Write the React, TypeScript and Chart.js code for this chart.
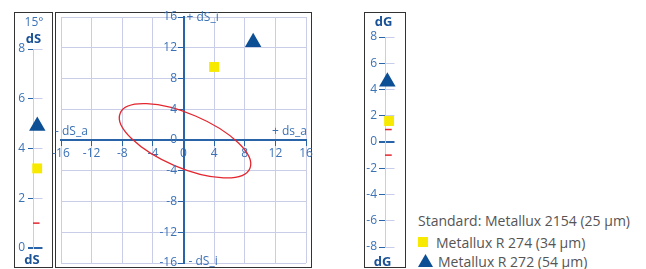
import React, { useEffect, useRef } from "react";
import { Chart, registerables } from "chart.js";
Chart.register(...registerables);

// ---------------- data ----------------
const standardLabel = "Standard: Metallux 2154 (25 µm)";
const sampleLabels = ["Metallux R 274 (34 µm)", "Metallux R 272 (54 µm)"];
const angleLabel = "15°";

const dsValues = [3.2, 4.9]; // R 274, R 272
const dsTolerance = [1.0];
const dgValues = [1.6, 4.6];
const dgTolerance = [0.95, -1.0];
const dsaValues = [4.0, 9.1];
const dsiValues = [9.5, 12.7];

const dsTicks = [0, 2, 4, 6, 8];
const dgTicks = [-8, -6, -4, -2, 0, 2, 4, 6, 8];
const planeTicks = [-16, -12, -8, -4, 0, 4, 8, 12, 16];

const ellipseCenter = [0.2, -0.1];
const ellipseAxes = [9.2, 3.5];
const ellipseAngleDeg = -23;

const planeAxisLabels = ["+ dS_i", "- dS_i", "- dS_a", "+ ds_a"];

// ---------------- styles ----------------
const FONT = "'Open Sans', 'Noto Sans', sans-serif";
const TICK = "#3b72b6";
const AXIS = "#2a64a8";
const GRID = "#c9cde8";
const TITLE = "#1a5296";
const BLUE = "#0d4f94";
const YELLOW = "#f7ea00";
const RED = "#e3262e";
const FRAME = "#333333";
const LEGEND_TEXT = "#555555";

const tickFont = { family: FONT, size: 12 };

function setTicks(list: number[]) {
  return (s: any) => {
    s.ticks = list.map((v) => ({ value: v }));
  };
}

function zeroPad(s: any) {
  s.paddingTop = 0;
  s.paddingBottom = 0;
  s.paddingLeft = 0;
  s.paddingRight = 0;
}

function sideChart(canvas: HTMLCanvasElement, o: any) {
  const datasets: any[] = [
    ...o.tolerance.map((v: number) => ({
      type: "line",
      data: [
        { x: 0, y: v },
        { x: o.tolEnd, y: v },
      ],
      borderColor: RED,
      borderWidth: 1.5,
      pointRadius: 0,
      clip: false,
    })),
    {
      type: "scatter",
      data: [{ x: o.squareX, y: o.values[0] }],
      pointStyle: "rect",
      pointRadius: 7,
      backgroundColor: YELLOW,
      borderWidth: 0,
      clip: false,
    },
    {
      type: "scatter",
      data: [{ x: o.triangleX, y: o.values[1] }],
      pointStyle: "triangle",
      pointRadius: 9.5,
      backgroundColor: BLUE,
      borderWidth: 0,
      clip: false,
    },
  ];
  return new Chart(canvas, {
    type: "scatter",
    data: { datasets },
    options: {
      animation: false,
      responsive: false,
      events: [],
      layout: { padding: o.padding },
      plugins: { legend: { display: false }, tooltip: { enabled: false } },
      scales: {
        x: { type: "linear", min: 0, max: 1, display: false },
        y: {
          type: "linear",
          min: o.min,
          max: o.max,
          afterBuildTicks: setTicks(o.ticks),
          afterFit: (s: any) => {
            zeroPad(s);
            s.width = o.axisWidth;
          },
          grid: {
            color: (c: any) => (c.tick && c.tick.value === 0 ? AXIS : GRID),
            lineWidth: (c: any) => (c.tick && c.tick.value === 0 ? 2 : 1),
            tickColor: AXIS,
            tickWidth: (c: any) => (c.tick && c.tick.value === 0 ? 2 : 1),
            tickLength: o.tickLength,
          },
          border: { color: GRID, width: 1 },
          ticks: { color: TICK, font: tickFont, padding: o.tickPad },
        },
      },
    } as any,
  });
}

const planeDecor = {
  id: "planeDecor",
  beforeDatasetsDraw(chart: any) {
    const { ctx } = chart;
    const x = chart.scales.x;
    const y = chart.scales.y;
    const cx = x.getPixelForValue(ellipseCenter[0]);
    const cy = y.getPixelForValue(ellipseCenter[1]);
    const sx = x.getPixelForValue(1) - x.getPixelForValue(0);
    const sy = y.getPixelForValue(0) - y.getPixelForValue(1);
    ctx.save();
    ctx.beginPath();
    ctx.translate(cx, cy);
    ctx.scale(sx, -sy);
    ctx.rotate((ellipseAngleDeg * Math.PI) / 180);
    ctx.ellipse(0, 0, ellipseAxes[0], ellipseAxes[1], 0, 0, Math.PI * 2);
    ctx.restore();
    ctx.save();
    ctx.strokeStyle = RED;
    ctx.lineWidth = 1.3;
    ctx.stroke();
    ctx.restore();
  },
  afterDraw(chart: any) {
    const { ctx, chartArea } = chart;
    const x = chart.scales.x;
    const y = chart.scales.y;
    const x0 = x.getPixelForValue(0);
    const y0 = y.getPixelForValue(0);
    ctx.save();
    ctx.fillStyle = TICK;
    ctx.font = `12px ${FONT}`;
    ctx.textBaseline = "middle";
    // y tick labels, left of the central vertical axis
    ctx.textAlign = "right";
    y.ticks.forEach((t: any) => {
      ctx.fillText(String(t.value), x0 - 6.5, y.getPixelForValue(t.value));
    });
    ctx.textAlign = "left";
    ctx.fillText(planeAxisLabels[0], x0 + 3, y.getPixelForValue(16) + 1);
    ctx.fillText(planeAxisLabels[1], x0 + 5, y.getPixelForValue(-16) - 1);
    ctx.fillText(planeAxisLabels[2], chartArea.left - 6, y0 - 8);
    ctx.textAlign = "right";
    ctx.fillText(planeAxisLabels[3], chartArea.right + 1, y0 - 8);
    ctx.restore();
  },
};

function planeChart(canvas: HTMLCanvasElement) {
  return new Chart(canvas, {
    type: "scatter",
    data: {
      datasets: [
        {
          data: [{ x: dsaValues[0], y: dsiValues[0] }],
          pointStyle: "rect",
          pointRadius: 7,
          backgroundColor: YELLOW,
          borderWidth: 0,
          clip: false,
        },
        {
          data: [{ x: dsaValues[1], y: dsiValues[1] }],
          pointStyle: "triangle",
          pointRadius: 9.5,
          backgroundColor: BLUE,
          borderWidth: 0,
          clip: false,
        },
      ],
    },
    options: {
      animation: false,
      responsive: false,
      events: [],
      layout: { padding: { left: 17, right: 18, top: 12, bottom: 22 } },
      plugins: { legend: { display: false }, tooltip: { enabled: false } },
      scales: {
        x: {
          type: "linear",
          min: -16,
          max: 16,
          position: { y: 0 },
          afterBuildTicks: setTicks(planeTicks),
          afterFit: zeroPad,
          grid: { color: GRID, tickColor: AXIS, tickLength: 5, lineWidth: 1 },
          border: { color: AXIS, width: 2 },
          ticks: { color: TICK, font: tickFont, padding: 1, maxRotation: 0, autoSkip: false },
        },
        y: {
          type: "linear",
          min: -16,
          max: 16,
          position: { x: 0 },
          afterBuildTicks: setTicks(planeTicks),
          afterFit: zeroPad,
          grid: { color: GRID, tickColor: AXIS, tickLength: 5, lineWidth: 1 },
          border: { color: AXIS, width: 2 },
          ticks: { display: false },
        },
      },
    } as any,
    plugins: [planeDecor as any],
  });
}

const abs = (l: number, t: number, w: number, h: number): React.CSSProperties => ({
  position: "absolute",
  left: l,
  top: t,
  width: w,
  height: h,
});

function Label(props: { x: number; y: number; w: number; text: string; bold?: boolean; size?: number; color?: string; align?: "left" | "center" }) {
  const size = props.size || 12;
  const lh = 18;
  return (
    <div
      style={{
        position: "absolute",
        left: props.align === "left" ? props.x : props.x - props.w / 2,
        top: props.y - lh / 2,
        width: props.w,
        height: lh,
        lineHeight: lh + "px",
        fontFamily: FONT,
        fontSize: size,
        fontWeight: props.bold ? 700 : 400,
        color: props.color || TITLE,
        textAlign: props.align || "center",
        whiteSpace: "nowrap",
      }}
    >
      {props.text}
    </div>
  );
}

export default function App() {
  const dsRef = useRef<HTMLCanvasElement>(null);
  const planeRef = useRef<HTMLCanvasElement>(null);
  const dgRef = useRef<HTMLCanvasElement>(null);

  useEffect(() => {
    const charts: Chart[] = [];
    charts.push(
      sideChart(dsRef.current!, {
        values: dsValues,
        tolerance: dsTolerance,
        ticks: dsTicks,
        min: 0,
        max: 8,
        squareX: 0.44,
        triangleX: 0.45,
        tolEnd: 0.69,
        axisWidth: 18,
        tickLength: 5,
        tickPad: 3,
        padding: { left: 0, right: 3, top: 36, bottom: 19 },
      })
    );
    charts.push(planeChart(planeRef.current!));
    charts.push(
      sideChart(dgRef.current!, {
        values: dgValues,
        tolerance: dgTolerance,
        ticks: dgTicks,
        min: -8,
        max: 8,
        squareX: 0.43,
        triangleX: 0.25,
        tolEnd: 0.71,
        axisWidth: 20,
        tickLength: 6,
        tickPad: 2,
        padding: { left: 0, right: 5, top: 24, bottom: 20 },
      })
    );
    return () => charts.forEach((c) => c.destroy());
  }, []);

  return (
    <div style={{ position: "fixed", left: 0, top: 0, width: 646, height: 269, overflow: "hidden", background: "#fff" }}>
      {/* frames */}
      <div style={{ ...abs(14, 12, 39, 256), border: `1px solid ${FRAME}`, boxSizing: "border-box" }} />
      <div style={{ ...abs(55, 12, 257, 256), border: `1px solid ${FRAME}`, boxSizing: "border-box" }} />
      <div style={{ ...abs(364, 12, 42, 256), border: `1px solid ${FRAME}`, boxSizing: "border-box" }} />

      <canvas ref={dsRef} width={37} height={254} style={abs(15, 13, 37, 254)} />
      <canvas ref={planeRef} width={280} height={280} style={abs(44, 5, 280, 280)} />
      <canvas ref={dgRef} width={39} height={254} style={abs(365, 13, 39, 254)} />

      {/* panel titles */}
      <Label x={34} y={21.5} w={30} text={angleLabel} size={12} color={TICK} />
      <Label x={33.5} y={37.5} w={30} text="dS" bold size={13} />
      <Label x={32} y={259} w={30} text="dS" bold size={13} />
      <Label x={383.5} y={21} w={30} text="dG" bold size={13} />
      <Label x={382.5} y={261} w={30} text="dG" bold size={13} />

      {/* legend */}
      <Label x={418} y={221} w={226} text={standardLabel} size={14} color={LEGEND_TEXT} align="left" />
      <div style={{ ...abs(418, 237, 10, 10), background: YELLOW }} />
      <Label x={436} y={242.5} w={206} text={sampleLabels[0]} size={14} color={LEGEND_TEXT} align="left" />
      <div style={{ ...abs(418, 254, 15, 13), background: BLUE, clipPath: "polygon(50% 0, 100% 100%, 0 100%)" }} />
      <Label x={438} y={262} w={206} text={sampleLabels[1]} size={14} color={LEGEND_TEXT} align="left" />
    </div>
  );
}
